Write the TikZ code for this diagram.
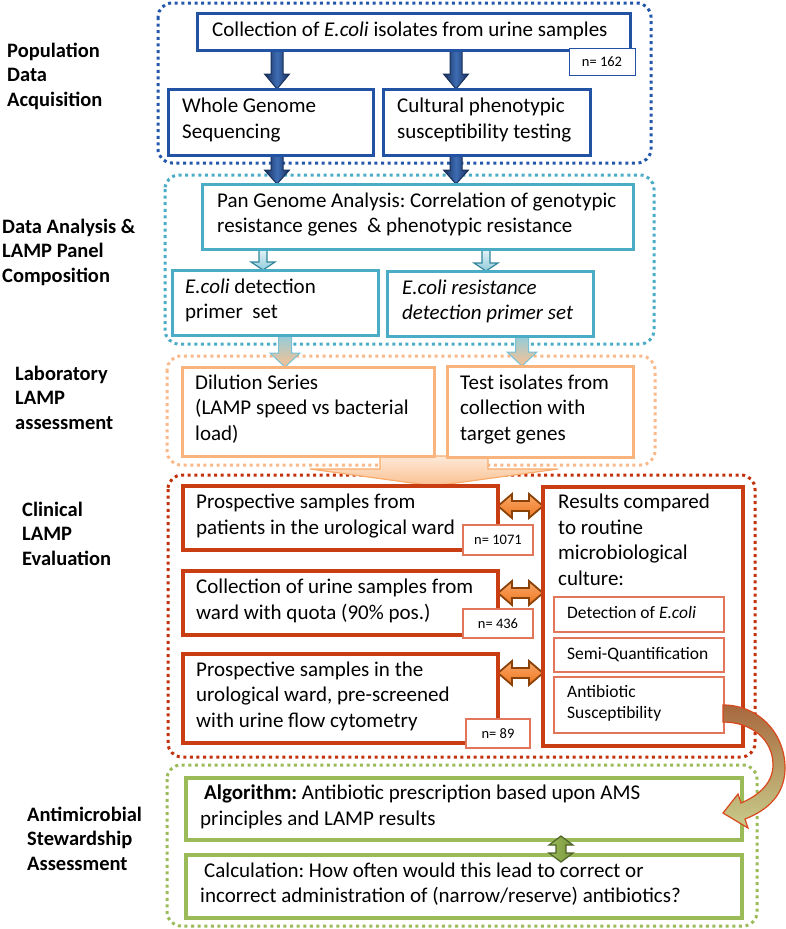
\documentclass[tikz,border=0pt]{standalone}
\usepackage{fontspec}
\setmainfont{Carlito}
\frenchspacing
\usetikzlibrary{calc,backgrounds}
\definecolor{bluB}{HTML}{2152A3}
\definecolor{bluD}{HTML}{2457AA}
\definecolor{navy}{HTML}{182F5A}
\definecolor{navyL}{HTML}{3E6DB4}
\definecolor{tealB}{HTML}{4BACC6}
\definecolor{tealD}{HTML}{31849B}
\definecolor{tealL}{HTML}{E4F3F7}
\definecolor{tealM}{HTML}{92CDDC}
\definecolor{orgB}{HTML}{F9B47E}
\definecolor{orgD}{HTML}{FAB98A}
\definecolor{orgL}{HTML}{FDE9D9}
\definecolor{orgM}{HTML}{FAC090}
\definecolor{orgA}{HTML}{F79646}
\definecolor{redB}{HTML}{C93D12}
\definecolor{redD}{HTML}{C3300C}
\definecolor{redT}{HTML}{E2765A}
\definecolor{brn}{HTML}{8A4208}
\definecolor{orgF}{HTML}{EE7620}
\definecolor{orgFL}{HTML}{F9A868}
\definecolor{grnB}{HTML}{9BBB59}
\definecolor{grnD}{HTML}{4F6228}
\definecolor{grnM}{HTML}{77933C}
\definecolor{brnA}{HTML}{A8683E}
\definecolor{olvA}{HTML}{C8CC8A}
\definecolor{crv}{HTML}{D9481C}
\newcommand\vblk[6]{\path[#1] let \p1=(#2), \p2=(#3) in
 (\x1-#4pt,\y1) -- (\x1+#4pt,\y1) -- (\x1+#4pt,\y2+#6pt) -- (\x1+#5pt,\y2+#6pt) -- (\x1,\y2) -- (\x1-#5pt,\y2+#6pt) -- (\x1-#4pt,\y2+#6pt) -- cycle;}
\newcommand\hdbl[6]{\path[#1] let \p1=(#2), \p2=(#3) in
 (\x1,\y1) -- (\x1+#6pt,\y1+#5pt) -- (\x1+#6pt,\y1+#4pt) -- (\x2-#6pt,\y1+#4pt) -- (\x2-#6pt,\y1+#5pt) -- (\x2,\y1) -- (\x2-#6pt,\y1-#5pt) -- (\x2-#6pt,\y1-#4pt) -- (\x1+#6pt,\y1-#4pt) -- (\x1+#6pt,\y1-#5pt) -- cycle;}
\newcommand\vdbl[6]{\path[#1] let \p1=(#2), \p2=(#3) in
 (\x1,\y1) -- (\x1+#5pt,\y1-#6pt) -- (\x1+#4pt,\y1-#6pt) -- (\x1+#4pt,\y2+#6pt) -- (\x1+#5pt,\y2+#6pt) -- (\x1,\y2) -- (\x1-#5pt,\y2+#6pt) -- (\x1-#4pt,\y2+#6pt) -- (\x1-#4pt,\y1-#6pt) -- (\x1-#5pt,\y1-#6pt) -- cycle;}
\tikzset{
 grp/.style={line width=3pt, dash pattern=on 3pt off 3.6pt, rounded corners=14pt},
 bx/.style={draw, fill=white, outer sep=0pt, inner sep=0pt, anchor=north west},
 txt/.style={anchor=west, align=left, inner sep=0pt, font=\fontsize{21pt}{25.6pt}\selectfont, execute at begin node=\strut, execute at end node=\strut},
 lab/.style={anchor=west, align=left, inner sep=0pt, font=\bfseries\fontsize{20.5pt}{24.5pt}\selectfont, execute at begin node=\strut, execute at end node=\strut},
 ntxt/.style={font=\fontsize{14.5pt}{17pt}\selectfont},
 stxt/.style={anchor=west, align=left, inner sep=0pt, font=\fontsize{17.5pt}{21.5pt}\selectfont, execute at begin node=\strut, execute at end node=\strut},
 blueA/.style={left color=navy, right color=navy, middle color=navyL, draw=navy, line width=1pt},
 tealA/.style={top color=tealL, bottom color=tealM, draw=tealD, line width=1.2pt},
 ltA/.style={top color=tealM, bottom color=orgM, draw=tealB!75, line width=1pt},
 bigA/.style={top color=orgL, bottom color=orgM, draw=orgA!80, line width=1.2pt},
 dA/.style={top color=orgFL, bottom color=orgF, draw=brn, line width=1.8pt},
 gA/.style={left color=grnB, right color=grnM, draw=grnD, line width=1.2pt},
}
\begin{document}
\begin{tikzpicture}[x=1pt,y=-1pt]
\useasboundingbox (0,0) rectangle (785,929);

% side labels
\node[lab] (L1) at (7,78) {Population\\Data\\Acquisition};
\node[lab] (L2) at (2,254) {Data Analysis \&\\LAMP Panel\\Composition};
\node[lab] (L3) at (15,401) {Laboratory\\LAMP\\assessment};
\node[lab] (L4) at (22,537) {Clinical\\LAMP\\Evaluation};
\node[lab] (L5) at (27,842) {Antimicrobial\\Stewardship\\Assessment};

% population data acquisition
\node[bx, draw=bluB, line width=3pt, minimum width=433pt, minimum height=37pt] (coll) at (197,13) {};
\node[txt] (collT) at ([xshift=15pt]coll.west) {Collection of \textit{E.coli} isolates from urine samples};
\node[bx, draw=bluB, line width=1pt, minimum width=66pt, minimum height=27pt, ntxt] (n162) at (569,48) {n= 162};
\node[bx, draw=bluB, line width=3pt, minimum width=205pt, minimum height=66pt] (wgs) at (168,89) {};
\node[txt] (wgsT) at ([xshift=14pt]wgs.west) {Whole Genome\\Sequencing};
\node[bx, draw=bluB, line width=3pt, minimum width=207pt, minimum height=66pt] (cult) at (383,89) {};
\node[txt] (cultT) at ([xshift=14pt]cult.west) {Cultural phenotypic\\susceptibility testing};

% data analysis
\node[bx, draw=tealB, line width=3pt, minimum width=431pt, minimum height=65pt] (pan) at (202,184) {};
\node[txt] (panT) at ([xshift=15pt]pan.west) {Pan Genome Analysis: Correlation of genotypic\\resistance genes\ \ \& phenotypic resistance};
\node[bx, draw=tealB, line width=3pt, minimum width=206pt, minimum height=65pt] (tb1) at (172,270) {};
\node[txt] (tb1T) at ([xshift=13pt]tb1.west) {\textit{E.coli} detection\\primer\ \ set};
\node[bx, draw=tealB, line width=3pt, minimum width=206pt, minimum height=65pt] (tb2) at (387,271) {};
\node[txt] (tb2T) at ([xshift=15pt]tb2.west) {\textit{E.coli resistance}\\\textit{detection primer set}};

% laboratory
\node[bx, draw=orgB, line width=3pt, minimum width=252pt, minimum height=89pt] (dil) at (182,367) {};
\node[txt] (dilT) at ([xshift=13pt]dil.west) {Dilution Series\\(LAMP speed vs bacterial\\load)};
\node[bx, draw=orgB, line width=3pt, minimum width=186pt, minimum height=91pt] (test) at (447,366) {};
\node[txt] (testT) at ([xshift=13pt]test.west) {Test isolates from\\collection with\\target genes};

% clinical
\node[bx, draw=redB, line width=4pt, minimum width=315pt, minimum height=64pt] (rb1) at (183,486) {};
\node[txt] (rb1T) at ([xshift=13pt]rb1.west) {Prospective samples from\\patients in the urological ward};
\node[bx, draw=redT, line width=1.3pt, minimum width=70pt, minimum height=30pt, ntxt] (nb1) at (463,525) {n= 1071};
\node[bx, draw=redB, line width=4pt, minimum width=315pt, minimum height=64pt] (rb2) at (183,571) {};
\node[txt] (rb2T) at ([xshift=13pt]rb2.west) {Collection of urine samples from\\ward with quota (90\% pos.)};
\node[bx, draw=redT, line width=1.3pt, minimum width=70pt, minimum height=29pt, ntxt] (nb2) at (463,609) {n= 436};
\node[bx, draw=redB, line width=4pt, minimum width=315pt, minimum height=89pt] (rb3) at (183,654) {};
\node[txt] (rb3T) at ([xshift=13pt]rb3.west) {Prospective samples in the\\urological ward, pre-screened\\with urine flow cytometry};
\node[bx, draw=redT, line width=1.3pt, minimum width=64pt, minimum height=29pt, ntxt] (nb3) at (466,719) {n= 89};

\node[bx, draw=redB, line width=4pt, minimum width=200pt, minimum height=259pt] (res) at (543,487) {};
\node[txt] (resT) at (558,543.5) {Results compared\\to routine\\microbiological\\culture:};
\node[bx, draw=redT, line width=1.2pt, minimum width=170pt, minimum height=35pt] (det) at (554,597) {};
\node[stxt] (detT) at ([xshift=13pt]det.west) {Detection of \textit{E.coli}};
\node[bx, draw=redT, line width=1.2pt, minimum width=170pt, minimum height=34pt] (semi) at (554,638) {};
\node[stxt] (semiT) at ([xshift=13pt]semi.west) {Semi-Quantification};
\node[bx, draw=redT, line width=1.2pt, minimum width=170pt, minimum height=56pt] (ab) at (554,677) {};
\node[stxt] (abT) at ([xshift=13pt]ab.west) {Antibiotic\\Susceptibility};

% AMS
\node[bx, draw=grnB, line width=3.5pt, minimum width=556pt, minimum height=62pt] (alg) at (186,778) {};
\node[txt] (algT) at ([xshift=14pt]alg.west) {\kern4pt\textbf{Algorithm:} Antibiotic prescription based upon AMS\\principles and LAMP results};
\node[bx, draw=grnB, line width=3.5pt, minimum width=556pt, minimum height=63pt] (calc) at (186,855) {};
\node[txt] (calcT) at ([xshift=14pt]calc.west) {\kern4pt Calculation: How often would this lead to correct or\\incorrect administration of (narrow/reserve) antibiotics?};

\begin{pgfonlayer}{background}
\draw[grp, draw=bluD] (158,3) rectangle (651,163);
\draw[grp, draw=tealB] (165,175) rectangle (654,344);
\draw[grp, draw=orgD] (167,356) rectangle (655,465);
\draw[grp, draw=redD] (168,475) rectangle (755,757);
\draw[grp, draw=grnB] (167,765) rectangle (757,926);

\vblk{blueA}{coll.south -| 277,0}{wgs.north -| 277,0}{6}{12.5}{15}
\vblk{blueA}{coll.south -| 456,0}{cult.north -| 456,0}{6}{12.5}{15}
\vblk{blueA}{wgs.south -| 277,0}{pan.north -| 277,0}{6}{12.5}{14}
\vblk{blueA}{cult.south -| 456,0}{pan.north -| 456,0}{6}{12.5}{14}

\vblk{tealA}{pan.south -| 263,0}{tb1.north -| 263,0}{4}{12}{8}
\vblk{tealA}{pan.south -| 486,0}{tb2.north -| 486,0}{4}{12}{8}

\vblk{ltA}{tb1.south -| 285,0}{dil.north -| 285,0}{6.5}{15}{14}
\vblk{ltA}{tb2.south -| 522,0}{test.north -| 522,0}{6.5}{15}{14}

\coordinate (bigS) at (434,456);
\vblk{bigA}{bigS}{bigS |- rb1.north}{54}{124}{17}

\hdbl{dA}{rb1.east |- 0,506}{res.west |- 0,506}{5}{12}{14}
\hdbl{dA}{rb2.east |- 0,593}{res.west |- 0,593}{5}{12}{14}
\hdbl{dA}{rb3.east |- 0,673}{res.west |- 0,673}{5}{12}{14}
\end{pgfonlayer}

% green double arrow
\coordinate (g1) at (561,836);
\coordinate (g2) at (561,862);
\vdbl{gA}{g1}{g2}{5}{12}{9}

% curved arrow from susceptibility to algorithm
\path[top color=brnA, bottom color=olvA, draw=crv, line width=1.2pt]
 (723,705) .. controls (760,705) and (786,735) .. (785,770)
 .. controls (784,795) and (768,810) .. (745,819)
 -- (748,828) -- (723,813) -- (738,794) -- (741,803)
 .. controls (760,795) and (773,782) .. (773,765)
 .. controls (773,740) and (752,722) .. (723,722) -- cycle;
\end{tikzpicture}
\end{document}
